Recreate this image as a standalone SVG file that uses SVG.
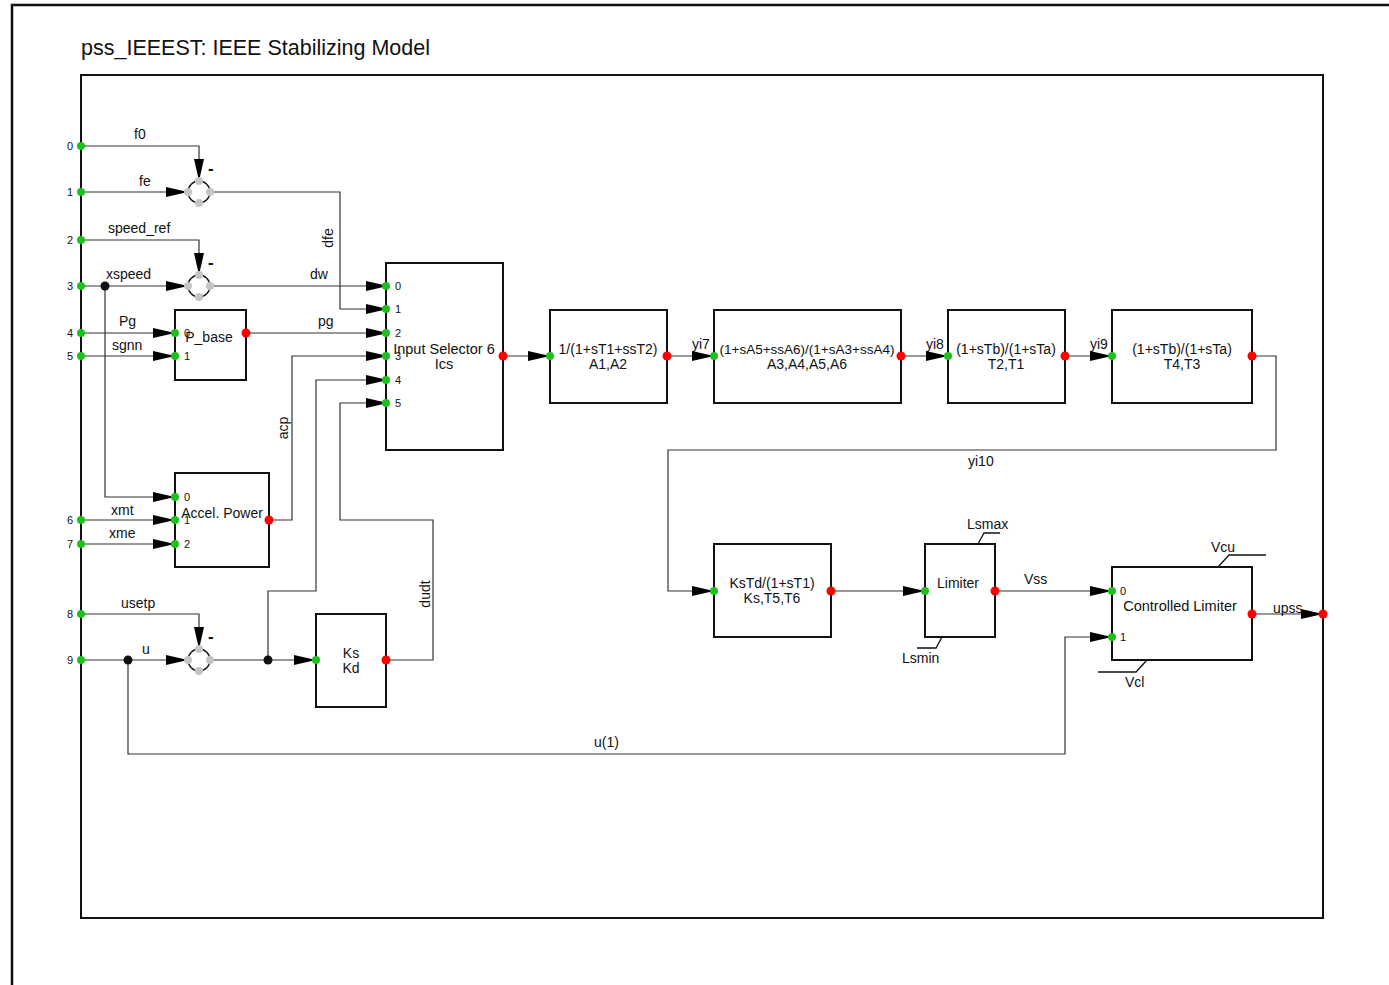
<svg xmlns="http://www.w3.org/2000/svg" width="1389" height="985" viewBox="0 0 1389 985">
<style>
text{font-family:"Liberation Sans",Arial,sans-serif;fill:#111;}
.lbl{font-size:14px;}
.pn{font-size:11px;}
.blk{font-size:14px;text-anchor:middle;}
.minus{font-size:17px;font-weight:bold;}
.box{fill:#fff;stroke:#111;stroke-width:2;}
.w{fill:none;stroke:#333;stroke-width:1.2;}
.in{fill:#1ec01e;}
.out{fill:#f00;}
.jn{fill:#111;}
.gd{fill:#c4c4c4;}
.sum{fill:none;stroke:#111;stroke-width:1.3;}
</style>
<defs>
<marker id="ah" markerWidth="22" markerHeight="10" refX="22" refY="5" orient="auto" markerUnits="userSpaceOnUse">
<polygon points="0,0 22,5 0,10" fill="#000"/>
</marker>
</defs>
<rect width="1389" height="985" fill="#fff"/>
<path d="M12,985 V5 H1389" fill="none" stroke="#111" stroke-width="2.5"/>
<text x="81" y="55" style="font-size:21.5px">pss_IEEEST: IEEE Stabilizing Model</text>
<rect x="81" y="75" width="1242" height="843" fill="none" stroke="#111" stroke-width="2"/>

<g id="connectors">
<path class="w" d="M81,146 H199 V181" marker-end="url(#ah)"/>
<path class="w" d="M81,192 H188" marker-end="url(#ah)"/>
<path class="w" d="M210,192 H340 V309 H388" marker-end="url(#ah)"/>
<path class="w" d="M81,240 H199 V275" marker-end="url(#ah)"/>
<path class="w" d="M81,286 H188" marker-end="url(#ah)"/>
<path class="w" d="M210,286 H388" marker-end="url(#ah)"/>
<path class="w" d="M105,286 V497 H175" marker-end="url(#ah)"/>
<path class="w" d="M81,333 H175" marker-end="url(#ah)"/>
<path class="w" d="M81,356 H175" marker-end="url(#ah)"/>
<path class="w" d="M246,333 H388" marker-end="url(#ah)"/>
<path class="w" d="M269,520 H292 V356 H388" marker-end="url(#ah)"/>
<path class="w" d="M268,660 V591 H316 V380 H388" marker-end="url(#ah)"/>
<path class="w" d="M386,660 H433 V520 H340 V403 H388" marker-end="url(#ah)"/>
<path class="w" d="M81,520 H175" marker-end="url(#ah)"/>
<path class="w" d="M81,544 H175" marker-end="url(#ah)"/>
<path class="w" d="M81,614 H199 V649" marker-end="url(#ah)"/>
<path class="w" d="M81,660 H188" marker-end="url(#ah)"/>
<path class="w" d="M210,660 H316" marker-end="url(#ah)"/>
<path class="w" d="M128,660 V754 H1065 V637 H1112" marker-end="url(#ah)"/>
<path class="w" d="M503,356 H550" marker-end="url(#ah)"/>
<path class="w" d="M667,356 H714" marker-end="url(#ah)"/>
<path class="w" d="M901,356 H948" marker-end="url(#ah)"/>
<path class="w" d="M1065,356 H1112" marker-end="url(#ah)"/>
<path class="w" d="M1252,356 H1276 V450 H668 V591 H714" marker-end="url(#ah)"/>
<path class="w" d="M831,591 H925" marker-end="url(#ah)"/>
<path class="w" d="M995,591 H1112" marker-end="url(#ah)"/>
<path class="w" d="M1252,614 H1323" marker-end="url(#ah)"/>
<circle class="jn" cx="105" cy="286" r="4.5"/>
<circle class="jn" cx="128" cy="660" r="4.5"/>
<circle class="jn" cx="268" cy="660" r="4.5"/>
<text class="lbl" x="134" y="139">f0</text>
<text class="lbl" x="139" y="186">fe</text>
<text class="lbl" x="108" y="233">speed_ref</text>
<text class="lbl" x="106" y="279">xspeed</text>
<text class="lbl" x="310" y="279">dw</text>
<text class="lbl" x="119" y="326">Pg</text>
<text class="lbl" x="112" y="350">sgnn</text>
<text class="lbl" x="318" y="326">pg</text>
<text class="lbl" x="111" y="515">xmt</text>
<text class="lbl" x="109" y="538">xme</text>
<text class="lbl" x="121" y="608">usetp</text>
<text class="lbl" x="142" y="654">u</text>
<text class="lbl" x="594" y="747">u(1)</text>
<text class="lbl" transform="translate(333,238) rotate(-90)" text-anchor="middle">dfe</text>
<text class="lbl" transform="translate(288,428) rotate(-90)" text-anchor="middle">acp</text>
<text class="lbl" transform="translate(430,594) rotate(-90)" text-anchor="middle">dudt</text>
<text class="lbl" x="692" y="349">yi7</text>
<text class="lbl" x="926" y="349">yi8</text>
<text class="lbl" x="1090" y="349">yi9</text>
<text class="lbl" x="968" y="466">yi10</text>
<text class="lbl" x="1024" y="584">Vss</text>
<text class="lbl" x="1273" y="613">upss</text>
<text class="minus" x="208" y="174">-</text>
<text class="minus" x="208" y="268">-</text>
<text class="minus" x="208" y="642">-</text>
</g>

<g id="ports">
<circle class="in" cx="81" cy="146" r="4"/><text class="pn" x="67" y="150">0</text>
<circle class="in" cx="81" cy="192" r="4"/><text class="pn" x="67" y="196">1</text>
<circle class="in" cx="81" cy="240" r="4"/><text class="pn" x="67" y="244">2</text>
<circle class="in" cx="81" cy="286" r="4"/><text class="pn" x="67" y="290">3</text>
<circle class="in" cx="81" cy="333" r="4"/><text class="pn" x="67" y="337">4</text>
<circle class="in" cx="81" cy="356" r="4"/><text class="pn" x="67" y="360">5</text>
<circle class="in" cx="81" cy="520" r="4"/><text class="pn" x="67" y="524">6</text>
<circle class="in" cx="81" cy="544" r="4"/><text class="pn" x="67" y="548">7</text>
<circle class="in" cx="81" cy="614" r="4"/><text class="pn" x="67" y="618">8</text>
<circle class="in" cx="81" cy="660" r="4"/><text class="pn" x="67" y="664">9</text>
<circle class="out" cx="1323" cy="614" r="4.5"/>
</g>

<g id="sum1">
<circle class="sum" cx="199" cy="192" r="11"/>
<circle class="gd" cx="199" cy="181" r="4"/><circle class="gd" cx="188" cy="192" r="4"/><circle class="gd" cx="210" cy="192" r="4"/><circle class="gd" cx="199" cy="203" r="4"/>
</g>
<g id="sum2">
<circle class="sum" cx="199" cy="286" r="11"/>
<circle class="gd" cx="199" cy="275" r="4"/><circle class="gd" cx="188" cy="286" r="4"/><circle class="gd" cx="210" cy="286" r="4"/><circle class="gd" cx="199" cy="297" r="4"/>
</g>
<g id="sum3">
<circle class="sum" cx="199" cy="660" r="11"/>
<circle class="gd" cx="199" cy="649" r="4"/><circle class="gd" cx="188" cy="660" r="4"/><circle class="gd" cx="210" cy="660" r="4"/><circle class="gd" cx="199" cy="671" r="4"/>
</g>

<g id="pbase">
<rect class="box" x="175" y="310" width="71" height="70"/>
<text class="blk" x="209" y="342">P_base</text>
<text class="pn" x="184" y="337">0</text><text class="pn" x="184" y="360">1</text>
<circle class="in" cx="175" cy="333" r="4"/><circle class="in" cx="175" cy="356" r="4"/>
<circle class="out" cx="246" cy="333" r="4.5"/>
</g>

<g id="selector">
<rect class="box" x="386" y="263" width="117" height="187"/>
<text class="blk" x="444" y="354" style="font-size:14.5px">Input Selector 6</text>
<text class="blk" x="444" y="369" style="font-size:14.5px">Ics</text>
<text class="pn" x="395" y="290">0</text><text class="pn" x="395" y="313">1</text><text class="pn" x="395" y="337">2</text>
<text class="pn" x="395" y="360">3</text><text class="pn" x="395" y="384">4</text><text class="pn" x="395" y="407">5</text>
<circle class="in" cx="386" cy="286" r="4"/><circle class="in" cx="386" cy="309" r="4"/><circle class="in" cx="386" cy="333" r="4"/>
<circle class="in" cx="386" cy="356" r="4"/><circle class="in" cx="386" cy="380" r="4"/><circle class="in" cx="386" cy="403" r="4"/>
<circle class="out" cx="503" cy="356" r="4.5"/>
</g>

<g id="accel">
<rect class="box" x="175" y="473" width="94" height="94"/>
<text class="blk" x="222" y="518">Accel. Power</text>
<text class="pn" x="184" y="501">0</text><text class="pn" x="184" y="524">1</text><text class="pn" x="184" y="548">2</text>
<circle class="in" cx="175" cy="497" r="4"/><circle class="in" cx="175" cy="520" r="4"/><circle class="in" cx="175" cy="544" r="4"/>
<circle class="out" cx="269" cy="520" r="4.5"/>
</g>

<g id="kskd">
<rect class="box" x="316" y="614" width="70" height="93"/>
<text class="blk" x="351" y="658">Ks</text>
<text class="blk" x="351" y="673">Kd</text>
<circle class="in" cx="316" cy="660" r="4"/>
<circle class="out" cx="386" cy="660" r="4.5"/>
</g>

<g id="a1a2">
<rect class="box" x="550" y="310" width="117" height="93"/>
<text class="blk" x="608" y="354">1/(1+sT1+ssT2)</text>
<text class="blk" x="608" y="369">A1,A2</text>
<circle class="in" cx="550" cy="356" r="4"/><circle class="out" cx="667" cy="356" r="4.5"/>
</g>

<g id="a3a6">
<rect class="box" x="714" y="310" width="187" height="93"/>
<text class="blk" x="807" y="354" style="font-size:13.5px">(1+sA5+ssA6)/(1+sA3+ssA4)</text>
<text class="blk" x="807" y="369">A3,A4,A5,A6</text>
<circle class="in" cx="714" cy="356" r="4"/><circle class="out" cx="901" cy="356" r="4.5"/>
</g>

<g id="t2t1">
<rect class="box" x="948" y="310" width="117" height="93"/>
<text class="blk" x="1006" y="354">(1+sTb)/(1+sTa)</text>
<text class="blk" x="1006" y="369">T2,T1</text>
<circle class="in" cx="948" cy="356" r="4"/><circle class="out" cx="1065" cy="356" r="4.5"/>
</g>

<g id="t4t3">
<rect class="box" x="1112" y="310" width="140" height="93"/>
<text class="blk" x="1182" y="354">(1+sTb)/(1+sTa)</text>
<text class="blk" x="1182" y="369">T4,T3</text>
<circle class="in" cx="1112" cy="356" r="4"/><circle class="out" cx="1252" cy="356" r="4.5"/>
</g>

<g id="kstd">
<rect class="box" x="714" y="544" width="117" height="93"/>
<text class="blk" x="772" y="588">KsTd/(1+sT1)</text>
<text class="blk" x="772" y="603">Ks,T5,T6</text>
<circle class="in" cx="714" cy="591" r="4"/><circle class="out" cx="831" cy="591" r="4.5"/>
</g>

<g id="limiter">
<rect class="box" x="925" y="544" width="70" height="93"/>
<text class="blk" x="958" y="588">Limiter</text>
<path d="M978,544 L984,533 H1000" fill="none" stroke="#111" stroke-width="1.3"/>
<text class="lbl" x="967" y="529">Lsmax</text>
<path d="M942,637 L936,648 H917" fill="none" stroke="#111" stroke-width="1.3"/>
<text class="lbl" x="902" y="663">Lsmin</text>
<circle class="in" cx="925" cy="591" r="4"/><circle class="out" cx="995" cy="591" r="4.5"/>
</g>

<g id="ctrllimiter">
<rect class="box" x="1112" y="567" width="140" height="93"/>
<text class="blk" x="1180" y="611" style="font-size:14.5px">Controlled Limiter</text>
<text class="pn" x="1120" y="595">0</text><text class="pn" x="1120" y="641">1</text>
<path d="M1218,567 L1229,555 H1266" fill="none" stroke="#111" stroke-width="1.3"/>
<text class="lbl" x="1211" y="552">Vcu</text>
<path d="M1147,660 L1136,672 H1098" fill="none" stroke="#111" stroke-width="1.3"/>
<text class="lbl" x="1125" y="687">Vcl</text>
<circle class="in" cx="1112" cy="591" r="4"/><circle class="in" cx="1112" cy="637" r="4"/>
<circle class="out" cx="1252" cy="614" r="4.5"/>
</g>
</svg>
